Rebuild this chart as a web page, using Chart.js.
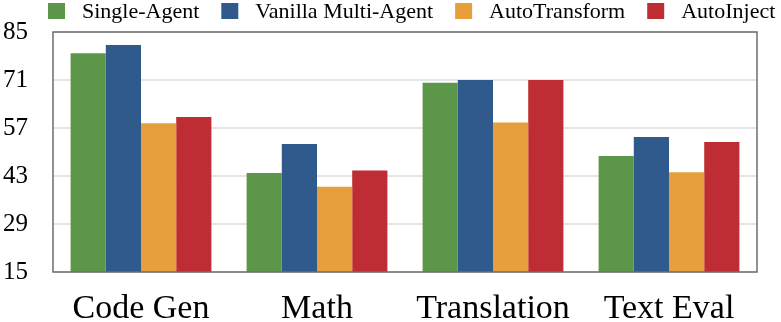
<!DOCTYPE html>
<html>
<head>
<meta charset="utf-8">
<script src="https://cdn.jsdelivr.net/npm/chart.js@4"></script>
<style>
  html, body { margin: 0; padding: 0; background: #fff; }
  #wrap { width: 781px; height: 322px; }
</style>
</head>
<body>
<div id="wrap"><canvas id="bars-chart"></canvas></div>
<script>
const categories = ["Code Gen", "Math", "Translation", "Text Eval"];
const singleAgent = [78.8, 43.9, 70.2, 48.8];
const vanillaMulti = [81.2, 52.3, 71.0, 54.4];
const autoTransform = [58.4, 39.9, 58.6, 44.1];
const autoInject = [60.2, 44.6, 71.0, 52.9];
const yTicks = [15, 29, 43, 57, 71, 85];

const serif = '"Liberation Serif", "DejaVu Serif", serif';

// frame around the plot area
const frame = {
    id: 'frame',
    afterDraw(chart) {
        const a = chart.chartArea;
        const c = chart.ctx;
        c.save();
        c.strokeStyle = '#6e6e6e';
        c.lineWidth = 1.5;
        c.strokeRect(a.left, a.top, a.right - a.left, a.bottom - a.top);
        c.restore();
    }
};

// legend row above the plot, taken from the datasets
const topLegend = {
    id: 'topLegend',
    afterDraw(chart) {
        const c = chart.ctx;
        c.save();
        c.font = '22px ' + serif;
        c.textBaseline = 'middle';
        c.textAlign = 'left';
        let x = 48;
        for (const ds of chart.data.datasets) {
            c.fillStyle = ds.backgroundColor;
            c.fillRect(x, 3, 17, 16);
            c.fillStyle = '#000';
            c.fillText(ds.label, x + 34, 12);
            x += 34 + c.measureText(ds.label).width + 22;
        }
        c.restore();
    }
};

const ctx = document.getElementById('bars-chart');

const chart = new Chart(ctx, {
    type: 'bar',
    data: {
        labels: categories,
        datasets: [
            { label: 'Single-Agent', data: singleAgent, backgroundColor: '#5c9649' },
            { label: 'Vanilla Multi-Agent', data: vanillaMulti, backgroundColor: '#2f5a8b' },
            { label: 'AutoTransform', data: autoTransform, backgroundColor: '#e5a03d' },
            { label: 'AutoInject', data: autoInject, backgroundColor: '#be2d33' }
        ]
    },
    options: {
        responsive: true,
        maintainAspectRatio: false,
        animation: false,
        devicePixelRatio: 1,
        layout: {
            padding: { left: 3, right: 24, top: 32, bottom: 0 }
        },
        datasets: {
            bar: {
                categoryPercentage: 0.8,
                barPercentage: 1.0,
                borderWidth: 0
            }
        },
        scales: {
            x: {
                afterFit: (scale) => { scale.height = 50; },
                grid: { display: false, drawTicks: false },
                border: { display: false },
                ticks: {
                    color: '#000',
                    padding: 17,
                    font: { family: serif, size: 34 }
                }
            },
            y: {
                min: 15,
                max: 85,
                afterBuildTicks: (scale) => { scale.ticks = yTicks.map(v => ({ value: v })); },
                afterFit: (scale) => { scale.width = 50; },
                grid: { color: '#e6e6e6', lineWidth: 2, drawTicks: false },
                border: { display: false },
                ticks: {
                    color: '#000',
                    padding: 0,
                    crossAlign: 'far',
                    font: { family: serif, size: 25 }
                }
            }
        },
        plugins: {
            legend: { display: false },
            tooltip: { enabled: false }
        }
    },
    plugins: [frame, topLegend]
});
</script>
</body>
</html>
